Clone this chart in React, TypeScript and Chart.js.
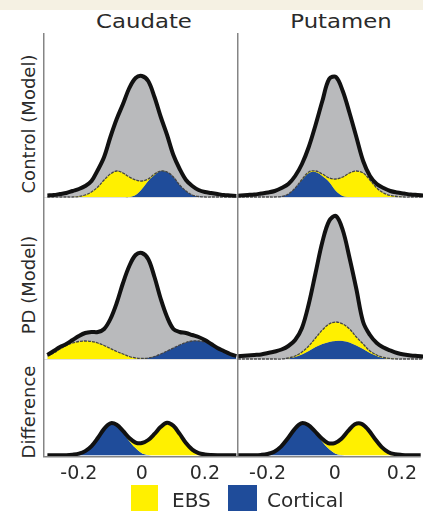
import React, { useEffect, useRef } from "react";
import { Chart, registerables } from "chart.js";
Chart.register(...registerables);

// x positions (difference in intensity), shared by all series
const XS = [-0.30, -0.28, -0.26, -0.24, -0.22, -0.20, -0.18, -0.16, -0.14, -0.12, -0.10, -0.08, -0.06, -0.04, -0.02, 0.00, 0.02, 0.04, 0.06, 0.08, 0.10, 0.12, 0.14, 0.16, 0.18, 0.20, 0.22, 0.24, 0.26, 0.28, 0.30];
const X_TICKS = [-0.2, 0, 0.2];
const COLUMN_TITLES = ["Caudate", "Putamen"];
const ROW_TITLES = ["Control (Model)", "PD (Model)", "Difference"];
const LEGEND_LABELS = ["EBS", "Cortical"];

// Control (Model) – Caudate
const ctrlCaudateTotal = [1.5, 2, 3, 4, 6, 8, 11, 16, 27, 40, 60, 78, 93, 109, 119, 121, 116, 100, 80, 62, 42, 28, 17, 11, 7, 5, 4, 3, 2, 1.5, 1];
const ctrlCaudateEBS = [0, 0, 0, 0, 0, 0.5, 2, 5, 10, 17, 23, 26, 24, 20, 15, 8, 2, 1, 0, 0, 0, 0, 0, 0, 0, 0, 0, 0, 0, 0, 0];
const ctrlCaudateCortical = [0, 0, 0, 0, 0, 0, 0, 0, 0, 0, 0, 0, 0, 0, 2, 8, 16, 22, 26, 25, 20, 12, 6, 2, 0.5, 0, 0, 0, 0, 0, 0];

// Control (Model) – Putamen
const ctrlPutamenTotal = [1, 1.5, 2, 2.5, 3.5, 4.5, 6, 9, 13, 21, 33, 50, 72, 96, 118, 120, 106, 84, 60, 36, 21, 13, 9, 6, 4.5, 3.5, 2.5, 2, 1.5, 1, 1];
const ctrlPutamenEBS = [0, 0, 0, 0, 0, 0, 0, 0, 0, 0, 0.5, 1, 1, 2, 4, 12, 19, 24, 26, 24, 17, 9, 4, 1.5, 0.5, 0, 0, 0, 0, 0, 0];
const ctrlPutamenCortical = [0, 0, 0, 0, 0, 0, 0, 0.5, 3, 9, 17, 24, 25, 21, 15, 6, 1, 0, 0, 0, 0, 0, 0, 0, 0, 0, 0, 0, 0, 0, 0];

// PD (Model) – Caudate
const pdCaudateTotal = [4, 8, 12, 15, 19, 23, 26, 27, 27, 30, 40, 56, 76, 93, 104, 106, 100, 82, 60, 42, 30, 27, 26, 24, 22, 19, 15, 11, 8, 5, 3];
const pdCaudateEBS = [3, 6, 10, 13.5, 16, 17.5, 18, 17.5, 16, 13.5, 10.5, 7.5, 5, 2.5, 1, 0.3, 0, 0, 0, 0, 0, 0, 0, 0, 0, 0, 0, 0, 0, 0, 0];
const pdCaudateCortical = [0, 0, 0, 0, 0, 0, 0, 0, 0, 0, 0, 0, 0, 0, 0, 0.3, 1, 2.5, 5, 8, 11, 14, 16.5, 18, 18, 17, 14.5, 11.5, 8, 5, 3];

// PD (Model) – Putamen
const pdPutamenTotal = [2.5, 3, 3.5, 4, 4.5, 6, 7.5, 9.5, 13, 19, 31, 55, 86, 117, 138, 143, 129, 101, 70, 37, 24, 16, 11.5, 8.5, 6, 4.5, 3.5, 3, 2.5, 2, 1.5];
const pdPutamenEBS = [0, 0, 0, 0, 0, 0, 0, 0, 0.5, 1, 2.5, 5, 9, 14, 18, 19, 17, 13.5, 8.5, 5, 2, 1, 0.5, 0.2, 0, 0, 0, 0, 0, 0, 0];
const pdPutamenCortical = [0, 0, 0, 0, 0, 0, 0, 0, 0.5, 2, 4.5, 8, 12, 15, 17, 18, 18, 16.5, 13.5, 10, 6, 3, 1, 0.3, 0, 0, 0, 0, 0, 0, 0];

// Difference – Caudate
const diffCaudateEBS = [0, 0, 0, 0, 0, 0, 0, 0, 0, 0, 0, 0.5, 1.5, 3, 5.5, 10, 14.7, 21, 28, 32, 29, 21, 12, 5.5, 2, 0.7, 0.2, 0, 0, 0, 0];
const diffCaudateCortical = [0, 0, 0, 0, 0.5, 1.5, 4, 9, 17, 26, 31.5, 29.5, 22.5, 14, 7, 2, 0.3, 0, 0, 0, 0, 0, 0, 0, 0, 0, 0, 0, 0, 0, 0];

// Difference – Putamen
const diffPutamenEBS = [0, 0, 0, 0, 0, 0, 0, 0, 0, 0, 0, 0, 1, 2.5, 5, 10, 16, 24, 30.5, 31, 25, 16, 8, 3, 1, 0.3, 0, 0, 0, 0, 0];
const diffPutamenCortical = [0, 0, 0, 0, 0.3, 1.2, 3.5, 8.5, 16.5, 25.5, 31.5, 30, 23, 14.5, 7, 2, 0.3, 0, 0, 0, 0, 0, 0, 0, 0, 0, 0, 0, 0, 0, 0];

const YELLOW = "#fff000";
const BLUE = "#1f4c9a";
const GRAY = "#b9babc";
const OUTLINE = "#111111";
const AXIS = "#858585";
const FONT = "'DejaVu Sans', sans-serif";

const pts = (ys: number[]) => ys.map((y, i) => ({ x: XS[i], y }));

const axisLines = {
  id: "axisLines",
  afterDatasetsDraw(chart: any) {
    const { ctx, chartArea } = chart;
    ctx.save();
    ctx.strokeStyle = AXIS;
    ctx.lineWidth = 1.5;
    ctx.beginPath();
    ctx.moveTo(chartArea.left + 0.75, chartArea.top);
    ctx.lineTo(chartArea.left + 0.75, chartArea.bottom + 1);
    ctx.moveTo(chartArea.left, chartArea.bottom + 0.5);
    ctx.lineTo(chartArea.right, chartArea.bottom + 0.5);
    ctx.stroke();
    ctx.restore();
  },
};

type PanelProps = {
  left: number;
  top: number;
  width: number;
  height: number;
  xmin: number;
  xmax: number;
  ymax: number;
  total: number[] | null;
  ebs: number[];
  cortical: number[];
  ticks: boolean;
};

function Panel(p: PanelProps) {
  const ref = useRef<HTMLCanvasElement>(null);
  const axisH = p.ticks ? 36 : 0;
  useEffect(() => {
    const envelope = p.ebs.map((v, i) => v + p.cortical[i]);
    const outlineData = p.total ? p.total : envelope;
    const datasets: any[] = [
      {
        data: pts(outlineData),
        borderColor: OUTLINE,
        borderWidth: 4,
        fill: false,
        tension: 0.35,
        pointRadius: 0,
      },
      {
        data: pts(envelope),
        borderColor: p.total ? "#444444" : "rgba(0,0,0,0)",
        borderWidth: 1.3,
        borderDash: [3, 1],
        backgroundColor: YELLOW,
        fill: 2,
        tension: 0.35,
        pointRadius: 0,
      },
      {
        data: pts(p.cortical),
        borderWidth: 0,
        borderColor: "rgba(0,0,0,0)",
        backgroundColor: BLUE,
        fill: "origin",
        tension: 0.35,
        pointRadius: 0,
      },
    ];
    if (p.total) {
      datasets.push({
        data: pts(p.total),
        borderWidth: 0,
        borderColor: "rgba(0,0,0,0)",
        backgroundColor: GRAY,
        fill: "origin",
        tension: 0.35,
        pointRadius: 0,
      });
    }
    const chart = new Chart(ref.current!, {
      type: "line",
      data: { datasets },
      options: {
        animation: false,
        responsive: false,
        devicePixelRatio: 1,
        layout: { padding: 0 },
        plugins: { legend: { display: false }, tooltip: { enabled: false } },
        scales: {
          x: {
            type: "linear",
            min: p.xmin,
            max: p.xmax,
            display: p.ticks,
            grid: { display: false, drawTicks: false },
            border: { display: false },
            afterBuildTicks: (s: any) => {
              s.ticks = X_TICKS.map((v) => ({ value: v }));
            },
            ticks: {
              padding: 6,
              color: "#2a2a2a",
              font: { family: FONT, size: 19 },
              maxRotation: 0,
              callback: (v: any) => String(v),
            },
          },
          y: { type: "linear", min: -1, max: p.ymax, display: false },
        },
      },
      plugins: [axisLines],
    } as any);
    return () => chart.destroy();
  }, []);
  return (
    <canvas
      ref={ref}
      width={p.width}
      height={p.height + axisH}
      style={{ position: "absolute", left: p.left, top: p.top, width: p.width, height: p.height + axisH }}
    />
  );
}

const textStyle: React.CSSProperties = {
  position: "absolute",
  fontFamily: FONT,
  color: "#2a2a2a",
  whiteSpace: "nowrap",
  lineHeight: 1,
};

export default function App() {
  const colL = { left: 43, width: 194, xmin: -0.314, xmax: 0.302 };
  const colR = { left: 237, width: 186, xmin: -0.291, xmax: 0.256 };
  const rows = [
    { top: 33, height: 165, ymax: 164 },
    { top: 198, height: 162, ymax: 161 },
    { top: 360, height: 95, ymax: 94 },
  ];
  return (
    <div style={{ position: "fixed", left: 0, top: 0, width: 423, height: 511, overflow: "hidden", background: "#fff" }}>
      <div style={{ position: "absolute", left: 0, top: 0, width: 423, height: 10, background: "#f5f1e3" }} />
      <div style={{ ...textStyle, left: 144, top: 12, fontSize: 19, transform: "translateX(-50%) scaleX(1.2)" }}>{COLUMN_TITLES[0]}</div>
      <div style={{ ...textStyle, left: 341, top: 12, fontSize: 19, transform: "translateX(-50%) scaleX(1.2)" }}>{COLUMN_TITLES[1]}</div>
      {[124, 285, 412].map((cy, i) => (
        <div key={i} style={{ ...textStyle, left: 29, top: cy, fontSize: 18, transform: "translate(-50%,-50%) rotate(-90deg)" }}>
          {ROW_TITLES[i]}
        </div>
      ))}
      <Panel {...colL} {...rows[0]} total={ctrlCaudateTotal} ebs={ctrlCaudateEBS} cortical={ctrlCaudateCortical} ticks={false} />
      <Panel {...colR} {...rows[0]} total={ctrlPutamenTotal} ebs={ctrlPutamenEBS} cortical={ctrlPutamenCortical} ticks={false} />
      <Panel {...colL} {...rows[1]} total={pdCaudateTotal} ebs={pdCaudateEBS} cortical={pdCaudateCortical} ticks={false} />
      <Panel {...colR} {...rows[1]} total={pdPutamenTotal} ebs={pdPutamenEBS} cortical={pdPutamenCortical} ticks={false} />
      <Panel {...colL} {...rows[2]} total={null} ebs={diffCaudateEBS} cortical={diffCaudateCortical} ticks={true} />
      <Panel {...colR} {...rows[2]} total={null} ebs={diffPutamenEBS} cortical={diffPutamenCortical} ticks={true} />
      <div style={{ position: "absolute", left: 131, top: 485, width: 27, height: 30, background: YELLOW }} />
      <div style={{ ...textStyle, left: 172, top: 490, fontSize: 20 }}>{LEGEND_LABELS[0]}</div>
      <div style={{ position: "absolute", left: 228, top: 485, width: 29, height: 30, background: BLUE }} />
      <div style={{ ...textStyle, left: 267, top: 490, fontSize: 20 }}>{LEGEND_LABELS[1]}</div>
    </div>
  );
}
